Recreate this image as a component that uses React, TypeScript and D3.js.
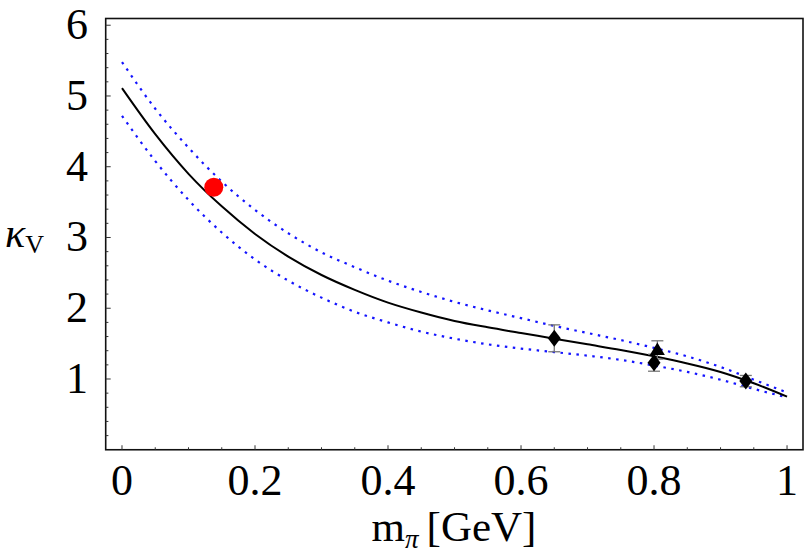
import { useEffect, useRef } from "react";
import * as d3 from "d3";

// curve samples
const mGrid = [0, 0.05, 0.1, 0.15, 0.2, 0.25, 0.3, 0.35, 0.4, 0.45, 0.5, 0.55, 0.6, 0.65, 0.7, 0.75, 0.8, 0.85, 0.9, 0.95, 1.0];
const kappaCentral = [5.11, 4.46, 3.9, 3.44, 3.05, 2.73, 2.47, 2.26, 2.08, 1.94, 1.82, 1.73, 1.65, 1.57, 1.49, 1.41, 1.32, 1.22, 1.1, 0.94, 0.75];
const kappaUpper = [5.48, 4.82, 4.27, 3.79, 3.39, 3.06, 2.79, 2.58, 2.39, 2.23, 2.09, 1.97, 1.86, 1.75, 1.65, 1.55, 1.44, 1.32, 1.17, 0.99, 0.81];
const kappaLower = [4.72, 4.08, 3.53, 3.07, 2.69, 2.39, 2.15, 1.95, 1.8, 1.67, 1.57, 1.49, 1.43, 1.38, 1.33, 1.27, 1.19, 1.1, 0.99, 0.86, 0.74];

// lattice points
const diamondM = [0.65, 0.8, 0.938];
const diamondK = [1.575, 1.23, 0.97];
const diamondErr = [0.19, 0.12, 0.08];
const triangleM = [0.805];
const triangleK = [1.41];
const triangleErr = [0.13];

// physical point
const physM = 0.138;
const physK = 3.71;

const xTicks = [0, 0.2, 0.4, 0.6, 0.8, 1];
const xTickLabels = ["0", "0.2", "0.4", "0.6", "0.8", "1"];
const yTicks = [1, 2, 3, 4, 5, 6];

export default function App() {
  const svgRef = useRef<SVGSVGElement>(null);

  useEffect(() => {
    if (!svgRef.current) return;
    const svg = d3.select(svgRef.current);
    svg.selectAll("*").remove();

    const left = 105.7;
    const right = 803;
    const top = 18.5;
    const bottom = 449.75;
    const font = "'Liberation Serif', 'Times New Roman', serif";

    const x = d3.scaleLinear().domain([-0.0245, 1.024]).range([left, right]);
    const y = d3.scaleLinear().domain([0, 6.095]).range([bottom, top]);

    const line = d3
      .line<number>()
      .x((_, i) => x(mGrid[i]))
      .y((d) => y(d))
      .curve(d3.curveMonotoneX);

    // dotted error band
    [kappaUpper, kappaLower].forEach((vals) => {
      svg
        .append("path")
        .datum(vals)
        .attr("fill", "none")
        .attr("stroke", "#1414ff")
        .attr("stroke-width", 2.2)
        .attr("stroke-dasharray", "2.5,5.5")
        .attr("d", line);
    });

    // central curve
    svg
      .append("path")
      .datum(kappaCentral)
      .attr("fill", "none")
      .attr("stroke", "#000")
      .attr("stroke-width", 2)
      .attr("d", line);

    // error bars
    const errBar = (m: number, k: number, e: number) => {
      const g = svg.append("g").attr("stroke", "#777").attr("stroke-width", 1.3);
      g.append("line").attr("x1", x(m)).attr("x2", x(m)).attr("y1", y(k - e)).attr("y2", y(k + e));
      [k - e, k + e].forEach((v) =>
        g.append("line").attr("x1", x(m) - 6).attr("x2", x(m) + 6).attr("y1", y(v)).attr("y2", y(v))
      );
    };
    diamondM.forEach((m, i) => errBar(m, diamondK[i], diamondErr[i]));
    triangleM.forEach((m, i) => errBar(m, triangleK[i], triangleErr[i]));

    // diamonds
    diamondM.forEach((m, i) => {
      const cx = x(m);
      const cy = y(diamondK[i]);
      svg
        .append("path")
        .attr("d", `M${cx},${cy - 8.5}L${cx + 6.5},${cy}L${cx},${cy + 8.5}L${cx - 6.5},${cy}Z`)
        .attr("fill", "#000");
    });

    // triangles
    triangleM.forEach((m, i) => {
      const cx = x(m);
      const cy = y(triangleK[i]);
      svg
        .append("path")
        .attr("d", `M${cx},${cy - 7.5}L${cx + 7.5},${cy + 5}L${cx - 7.5},${cy + 5}Z`)
        .attr("fill", "#000");
    });

    // physical point
    svg
      .append("circle")
      .attr("cx", x(physM))
      .attr("cy", y(physK))
      .attr("r", 9.5)
      .attr("fill", "#ff0000");

    // frame
    svg
      .append("rect")
      .attr("x", left)
      .attr("y", top)
      .attr("width", right - left)
      .attr("height", bottom - top)
      .attr("fill", "none")
      .attr("stroke", "#111")
      .attr("stroke-width", 1.6);

    // x ticks
    const xMinor = d3.range(0, 1.0001, 0.05);
    svg
      .append("g")
      .selectAll("line")
      .data(xMinor)
      .enter()
      .append("line")
      .attr("x1", (d) => x(d))
      .attr("x2", (d) => x(d))
      .attr("y1", bottom)
      .attr("y2", (d, i) => bottom - (i % 4 === 0 ? 4.5 : 2.5))
      .attr("stroke", "#333")
      .attr("stroke-width", 1);

    svg
      .append("g")
      .selectAll("text")
      .data(xTicks)
      .enter()
      .append("text")
      .attr("x", (d) => x(d))
      .attr("y", 495)
      .attr("text-anchor", "middle")
      .style("font-family", font)
      .style("font-size", "44px")
      .text((_, i) => xTickLabels[i]);

    // y ticks
    const yMinor = d3.range(0.2, 6.0001, 0.2);
    svg
      .append("g")
      .selectAll("line")
      .data(yMinor)
      .enter()
      .append("line")
      .attr("x1", left)
      .attr("x2", (d) => left + (Math.abs(d - Math.round(d)) < 0.01 ? 5 : 2.7))
      .attr("y1", (d) => y(d))
      .attr("y2", (d) => y(d))
      .attr("stroke", "#333")
      .attr("stroke-width", 1);

    svg
      .append("g")
      .selectAll("text")
      .data(yTicks)
      .enter()
      .append("text")
      .attr("x", 88)
      .attr("y", (d) => y(d) + 14)
      .attr("text-anchor", "end")
      .style("font-family", font)
      .style("font-size", "44px")
      .text((d) => String(d));

    // axis labels
    const xl = svg
      .append("text")
      .attr("x", 454)
      .attr("y", 541)
      .attr("text-anchor", "middle")
      .style("font-family", font)
      .style("font-size", "43px");
    xl.append("tspan").text("m");
    xl.append("tspan").attr("dy", 7).style("font-size", "27px").style("font-style", "italic").text("π");
    xl.append("tspan").attr("dy", -7).attr("dx", 8).text("[GeV]");

    const yl = svg
      .append("text")
      .attr("x", 5)
      .attr("y", 247)
      .style("font-family", font)
      .style("font-size", "42px");
    yl.append("tspan").style("font-style", "italic").text("κ");
    yl.append("tspan").attr("dy", 6).style("font-size", "26px").text("V");
  }, []);

  return (
    <svg
      ref={svgRef}
      width={804}
      height={553}
      style={{ position: "absolute", left: 0, top: 0, background: "#fff" }}
    />
  );
}
